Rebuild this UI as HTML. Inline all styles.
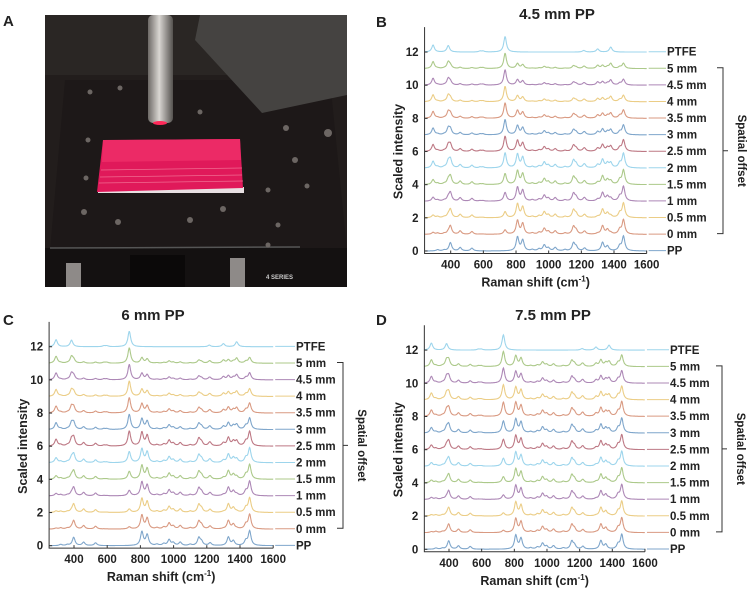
<!DOCTYPE html>
<html><head><meta charset="utf-8"><style>
html,body{margin:0;padding:0;background:#fff;}
svg{display:block;font-family:"Liberation Sans",Arial,sans-serif;}
.t{font-weight:bold;fill:#222;}
</style></head><body>
<svg id="fig" width="749" height="589" viewBox="0 0 749 589" xmlns="http://www.w3.org/2000/svg">
<g>
  <text class="t" x="3" y="26" font-size="15">A</text>
  <rect x="45" y="15" width="302" height="272" fill="#221d1c"/>
  <rect x="45" y="15" width="302" height="60" fill="#2a2624"/>
  <polygon points="65,80 330,80 347,250 50,250" fill="#1d1818"/>
  <rect x="45" y="248" width="302" height="39" fill="#141111"/>
  <line x1="50" y1="248" x2="300" y2="247" stroke="#555" stroke-width="1.5"/>
  <rect x="130" y="255" width="55" height="32" fill="#0b0909"/>
  <rect x="66" y="263" width="15" height="24" fill="#8e8a88"/>
  <rect x="230" y="258" width="15" height="29" fill="#8e8a88"/>
  <text x="266" y="279" font-size="6" fill="#ccc" font-weight="bold">4 SERIES</text>
  <defs><linearGradient id="cyl" x1="0" x2="1"><stop offset="0" stop-color="#6d6966"/><stop offset="0.45" stop-color="#d9d6d2"/><stop offset="1" stop-color="#55524f"/></linearGradient></defs>
  <rect x="148" y="15" width="25" height="108" rx="5" fill="url(#cyl)"/>
  <polygon points="200,15 347,15 347,95 262,113 195,40" fill="#454341"/>
  <ellipse cx="160" cy="123" rx="7" ry="2" fill="#ff2a5a"/>
  <g fill="#6c6663">
    <circle cx="90" cy="92" r="2.5"/><circle cx="120" cy="88" r="2.5"/><circle cx="200" cy="112" r="2.5"/><circle cx="88" cy="140" r="2.5"/><circle cx="86" cy="178" r="2.5"/><circle cx="84" cy="212" r="3"/><circle cx="118" cy="222" r="3"/><circle cx="190" cy="220" r="3"/><circle cx="223" cy="209" r="3"/><circle cx="268" cy="190" r="2.5"/><circle cx="295" cy="160" r="3"/><circle cx="307" cy="186" r="2.5"/><circle cx="278" cy="225" r="2.5"/><circle cx="268" cy="245" r="2.5"/><circle cx="328" cy="133" r="4"/><circle cx="286" cy="128" r="3"/>
  </g>
  <rect x="98" y="187" width="146" height="6" fill="#e8e0e2"/>
  <polygon points="103,140 240,139 243,188 97,192" fill="#e0195a"/>
  <polygon points="103,140 240,139 241,160 102,162" fill="#ec2a66"/>
  <g stroke="#f06a90" stroke-width="0.8"><line x1="101" y1="170" x2="242" y2="168"/><line x1="100" y1="177" x2="242" y2="175"/><line x1="99" y1="183" x2="243" y2="181"/></g>
</g>
<g id="panels"></g>
</svg>
<script>
// ---- data ----
const traceLabels = ["PP","0 mm","0.5 mm","1 mm","1.5 mm","2 mm","2.5 mm","3 mm","3.5 mm","4 mm","4.5 mm","5 mm","PTFE"];
const ppPeakPos =    [320, 360, 398, 458, 530, 809, 841, 900, 941, 973, 998, 1040, 1100, 1152, 1168, 1220, 1330, 1360, 1435, 1458];
const ppPeakHeight = [0.08,0.06,0.55,0.22,0.18,0.9, 0.7, 0.08,0.12,0.38,0.18,0.22, 0.08, 0.5, 0.25, 0.18, 0.55, 0.3, 0.3, 0.95];
const ptfePeakPos =    [292, 385, 580, 598, 733, 1215, 1300, 1380];
const ptfePeakHeight = [0.45,0.42,0.06,0.06,1.0, 0.1, 0.2, 0.32];
const ptfeFractionB = [0.22,0.28,0.36,0.42,0.5,0.56,0.6,0.64,0.7,0.72,0.74];
const ptfeFractionC = [0.12,0.18,0.26,0.34,0.42,0.5,0.56,0.6,0.66,0.68,0.72];
const ptfeFractionD = [0.12,0.16,0.22,0.28,0.34,0.4,0.44,0.48,0.52,0.54,0.56];
const xTicks = [400,600,800,1000,1200,1400,1600];
const yTicks = [0,2,4,6,8,10,12];
const colors = ["#7fa6cb","#d99a82","#ebcd86","#ad88b6","#acc98a","#9dd5ec","#bd7884"];

const NS="http://www.w3.org/2000/svg";
function mk(tag, attrs, parent){const e=document.createElementNS(NS,tag);for(const k in attrs)e.setAttribute(k,attrs[k]);parent.appendChild(e);return e;}
function lor(x,pos,h){let s=0;for(let i=0;i<pos.length;i++){const d=(x-pos[i])/10;s+=h[i]/(1+d*d);}return s;}

function panel(cfg){
  const g=mk('g',{},document.getElementById('panels'));
  
  
  const xAt=v=>cfg.x400+(v-400)*cfg.kx;
  const yAt=v=>cfg.y0-v*cfg.ky;
  const xl=xAt(cfg.xmin), xr=xAt(1600), yb=yAt(-0.15), yt=yAt(13.5);
  let t=mk('text',{x:cfg.letterX,y:cfg.letterY,'font-size':15,class:'t'},g);t.textContent=cfg.letter;
  
  
  t=mk('text',{x:cfg.titleX,y:cfg.titleY,'font-size':15,class:'t','text-anchor':'middle'},g);t.textContent=cfg.title;
  
  
  const fr=cfg.frac;
  for(let i=0;i<traceLabels.length;i++){
    let f = i===0?0:(i===traceLabels.length-1?1:fr[i-1]);
    let pts=[],vals=[],mx=0;
    for(let x=cfg.xmin;x<=1600;x+=2){const v=(1-f)*lor(x,ppPeakPos,ppPeakHeight)+f*lor(x,ptfePeakPos,ptfePeakHeight);vals.push([x,v]);if(v>mx)mx=v;}
    const sc=0.92/mx;
    for(const [x,v] of vals)pts.push(xAt(x).toFixed(1)+','+yAt(i+v*sc).toFixed(1));
    const col=colors[i%colors.length];
    const p=mk('polyline',{points:pts.join(' '),fill:'none',stroke:col,'stroke-width':1.1},g);
    
    
    const y=yAt(i+0.02);
    const l=mk('line',{x1:xr+2,y1:y,x2:cfg.labelX-1,y2:y,stroke:col,'stroke-width':1},g);
    
    
    const lt=mk('text',{x:cfg.labelX,y:y+4,'font-size':11.5,class:'t'},g);lt.textContent=traceLabels[i];
    
    
  }
  const ax=mk('path',{d:`M${xl},${yt}V${yb}H${xr}`,fill:'none',stroke:'#333','stroke-width':1},g);
  
  
  for(const v of xTicks){const x=xAt(v);mk('line',{x1:x,y1:yb,x2:x,y2:yb-3,stroke:'#333'},g);
    const tt=mk('text',{x:x,y:yb+15,'font-size':11.5,class:'t','text-anchor':'middle'},g);tt.textContent=v;
    
    }
  for(const v of yTicks){const y=yAt(v);mk('line',{x1:xl,y1:y,x2:xl+3,y2:y,stroke:'#333'},g);
    const tt=mk('text',{x:xl-6,y:y+4,'font-size':11.5,class:'t','text-anchor':'end'},g);tt.textContent=v;
    
    }
  const xt=mk('text',{x:(xl+xr)/2,y:yb+33,'font-size':12.5,class:'t','text-anchor':'middle'},g);
  xt.innerHTML='Raman shift (cm<tspan dy="-5" font-size="8">-1</tspan><tspan dy="5">)</tspan>';
  
  
  const ycy=(yAt(0)+yAt(12))/2;
  const yt2=mk('text',{x:0,y:0,'font-size':12.5,class:'t','text-anchor':'middle',transform:`translate(${xl-22},${ycy}) rotate(-90)`},g);
  yt2.textContent='Scaled intensity';
  
  
  const b1=yAt(11.05), b2=yAt(1.05), bm=(b1+b2)/2, bx=cfg.bracketX;
  const br=mk('path',{d:`M${bx-6},${b1}H${bx}V${b2}H${bx-6}M${bx},${bm}H${bx+5}`,fill:'none',stroke:'#333','stroke-width':1},g);
  
  
  const st=mk('text',{x:0,y:0,'font-size':11.5,class:'t','text-anchor':'middle',transform:`translate(${bx+15},${bm}) rotate(90)`},g);
  st.textContent='Spatial offset';
  
  
}
panel({name:'panel-b-chart',letter:'B',letterX:376,letterY:27,title:'4.5 mm PP',titleX:557,titleY:19,x400:450.7,kx:0.1633,xmin:240,y0:251,ky:16.58,labelX:667,bracketX:723,frac:ptfeFractionB});
panel({name:'panel-c-chart',letter:'C',letterX:3,letterY:325,title:'6 mm PP',titleX:153,titleY:320,x400:74,kx:0.166,xmin:250,y0:545.7,ky:16.58,labelX:296,bracketX:343,frac:ptfeFractionC});
panel({name:'panel-d-chart',letter:'D',letterX:376,letterY:325,title:'7.5 mm PP',titleX:553,titleY:320,x400:449,kx:0.1633,xmin:249,y0:549.3,ky:16.6,labelX:670,bracketX:722,frac:ptfeFractionD});
</script>
</body></html>
